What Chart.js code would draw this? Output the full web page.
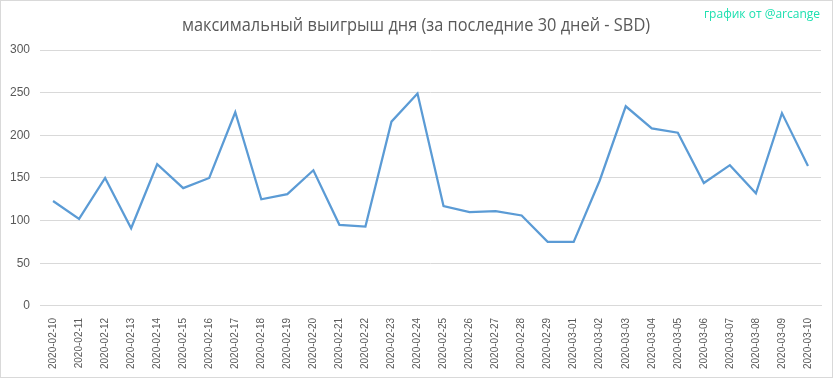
<!DOCTYPE html>
<html>
<head>
<meta charset="utf-8">
<script src="https://cdn.jsdelivr.net/npm/chart.js@4.4.1/dist/chart.umd.min.js"></script>
<style>
html,body{margin:0;padding:0;background:#fff;}
#wrap{width:833px;height:379px;position:relative;}
</style>
</head>
<body>
<div id="wrap"><canvas id="c" width="833" height="379"></canvas></div>
<script>
const categories = ["2020-02-10","2020-02-11","2020-02-12","2020-02-13","2020-02-14","2020-02-15","2020-02-16","2020-02-17","2020-02-18","2020-02-19","2020-02-20","2020-02-21","2020-02-22","2020-02-23","2020-02-24","2020-02-25","2020-02-26","2020-02-27","2020-02-28","2020-02-29","2020-03-01","2020-03-02","2020-03-03","2020-03-04","2020-03-05","2020-03-06","2020-03-07","2020-03-08","2020-03-09","2020-03-10"];
const maxWin = [123,102,150,91,166,138,150,227,125,131,159,95,93,216,249,117,110,111,106,75,75,147,234,208,203,144,165,132,226,164];
const yTicks = [0,50,100,150,200,250,300];
const titleText = "максимальный выигрыш дня (за последние 30 дней - SBD)";
const creditText = "график от @arcange";

const overlay = {
  id: 'overlay',
  afterDraw(chart) {
    const ctx = chart.ctx;
    ctx.save();
    ctx.strokeStyle = '#d9d9d9';
    ctx.lineWidth = 1;
    ctx.strokeRect(0.5, 0.5, 832, 377);
    ctx.fillStyle = '#595959';
    ctx.font = '18px "Open Sans"';
    ctx.textAlign = 'center';
    ctx.textBaseline = 'alphabetic';
    ctx.save();
    ctx.translate(416, 31);
    ctx.scale(0.91, 1);
    ctx.fillText(titleText, 0, 0);
    ctx.restore();
    ctx.fillStyle = '#1ee0b0';
    ctx.font = '12px "Open Sans"';
    ctx.textAlign = 'right';
    ctx.fillText(creditText, 820, 18);
    ctx.restore();
  }
};

new Chart(document.getElementById('c'), {
  type: 'line',
  data: {
    labels: categories,
    datasets: [{
      data: maxWin,
      borderColor: '#5b9bd5',
      borderWidth: 2.25,
      pointRadius: 0,
      tension: 0,
      fill: false
    }]
  },
  options: {
    responsive: false,
    animation: false,
    layout: { padding: { top: 50, right: 12, left: 0, bottom: 6 } },
    plugins: { legend: { display: false }, title: { display: false }, tooltip: { enabled: false } },
    scales: {
      x: {
        offset: true,
        grid: { display: false },
        border: { color: '#d9d9d9' },
        ticks: {
          minRotation: 90, maxRotation: 90, autoSkip: false,
          color: '#595959', font: { family: 'Liberation Sans', size: 10 }, padding: 4
        }
      },
      y: {
        min: 0, max: 300,
        afterBuildTicks(axis) { axis.ticks = yTicks.map(v => ({ value: v })); },
        grid: { color: '#d9d9d9', drawTicks: false },
        border: { display: false },
        ticks: { color: '#595959', font: { family: 'Liberation Sans', size: 12 }, padding: 10 }
      }
    }
  },
  plugins: [overlay]
});
</script>
</body>
</html>
